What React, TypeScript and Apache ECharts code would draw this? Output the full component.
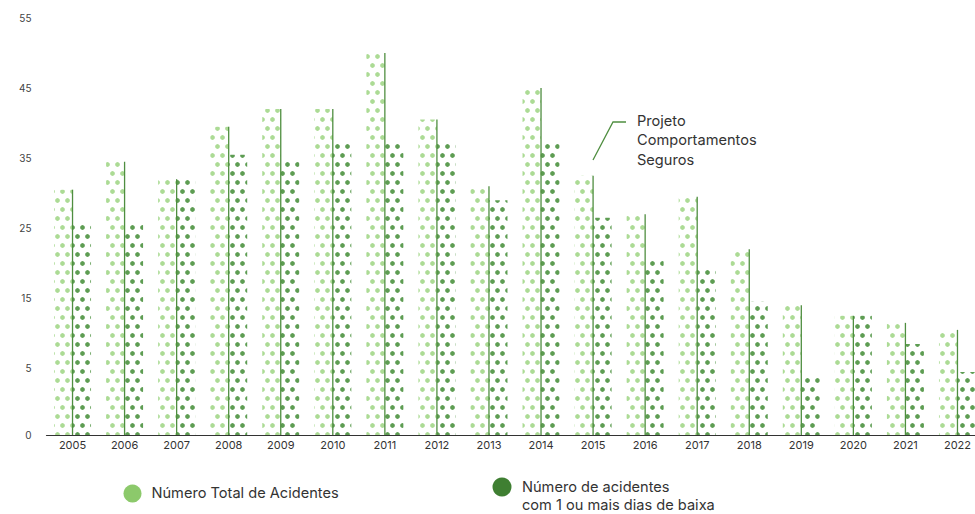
import React, { useEffect, useRef } from "react";
import * as echarts from "echarts";

const years = ["2005","2006","2007","2008","2009","2010","2011","2012","2013","2014","2015","2016","2017","2018","2019","2020","2021","2022"];
const totalAccidents = [30.5, 34.5, 32, 39.5, 42, 42, 50, 40.5, 31, 45, 32.5, 27, 29.5, 22, 14, 12.5, 11.5, 10.5];
const lostDayAccidents = [26, 26, 32, 35.5, 34.5, 37.5, 37.5, 37.5, 29, 37.5, 26.5, 20.5, 19.5, 14.5, 4, 12.5, 8.5, 4.5];
const yTickValues = [-4.5, 5, 15, 25, 35, 45, 55];
const yMin = -4.5;
const yMax = 55;
const seriesNames = ["Número Total de Acidentes", "Número de acidentes\ncom 1 ou mais dias de baixa"];
const annotation = "Projeto\nComportamentos\nSeguros";

const LIGHT_DOT = "#acdb95";
const DARK_DOT = "#5e9d53";
const LINE = "#4f8e40";
const FONT = "Inter, 'Noto Sans', sans-serif";

const dotDecal = (color: string) => ({
  symbol: "circle",
  symbolSize: 0.95,
  color,
  backgroundColor: "rgba(0,0,0,0)",
  dashArrayX: [[4.5, 4.5], [0, 4.5, 4.5, 0]],
  dashArrayY: [4.5, 4],
  rotation: 0,
});

export default function App() {
  const ref = useRef<HTMLDivElement>(null);
  useEffect(() => {
    if (!ref.current) return;
    const chart = echarts.init(ref.current, undefined, { renderer: "svg" });
    chart.setOption({
      animation: false,
      backgroundColor: "#fff",
      grid: { left: 46.5, top: 18, bottom: 79, width: 937, outerBoundsMode: "none", containLabel: false },
      xAxis: {
        type: "category",
        data: years,
        axisLine: { onZero: false, lineStyle: { color: "#333", width: 1.2 } },
        axisTick: { show: false },
        axisLabel: { color: "#333", fontSize: 11, fontFamily: FONT, margin: 4 },
      },
      yAxis: {
        type: "value",
        min: yMin,
        max: yMax,
        startValue: yMin,
        splitLine: { show: false },
        axisLine: { show: false },
        axisTick: { show: false },
        axisLabel: {
          customValues: yTickValues,
          color: "#444",
          fontSize: 10,
          fontFamily: FONT,
          margin: 15,
          formatter: (v: number) => (v < 0 ? "0" : String(v)),
        },
      },
      series: [
        {
          name: seriesNames[0],
          type: "bar",
          data: totalAccidents,
          barWidth: 18.5,
          barGap: "0%",
          itemStyle: { color: "#ffffff", decal: dotDecal(LIGHT_DOT) },
        },
        {
          name: seriesNames[1],
          type: "bar",
          data: lostDayAccidents,
          barWidth: 18.5,
          barGap: "0%",
          itemStyle: { color: "#ffffff", decal: dotDecal(DARK_DOT) },
        },
        {
          type: "custom",
          data: totalAccidents.map((v, i) => [i, v]),
          renderItem: (params: any, api: any) => {
            const top = api.coord([api.value(0), api.value(1)]);
            const base = api.coord([api.value(0), yMin]);
            return {
              type: "line",
              shape: { x1: top[0], y1: top[1], x2: top[0], y2: base[1] },
              style: { stroke: LINE, lineWidth: 1.3 },
            };
          },
          z: 5,
        },
      ],
      graphic: [
        {
          type: "polyline",
          shape: { points: [[593, 160], [613, 122], [626, 122]] },
          style: { stroke: LINE, lineWidth: 1.3, fill: "none" },
        },
        {
          type: "text",
          x: 637,
          y: 111,
          style: { text: annotation, font: `14.6px ${FONT}`, fill: "#333", lineHeight: 19.5 },
        },
        { type: "circle", shape: { cx: 132.5, cy: 493.5, r: 9 }, style: { fill: "#8cc96b" } },
        {
          type: "text",
          x: 151.5,
          y: 493,
          style: { text: seriesNames[0], font: `14.6px ${FONT}`, fill: "#333", verticalAlign: "middle" },
        },
        { type: "circle", shape: { cx: 502, cy: 487, r: 9.5 }, style: { fill: "#3f7f32" } },
        {
          type: "text",
          x: 522,
          y: 478,
          style: { text: seriesNames[1], font: `14.6px ${FONT}`, fill: "#333", lineHeight: 18 },
        },
      ],
    });
    return () => chart.dispose();
  }, []);
  return <div ref={ref} style={{ width: 975, height: 514, position: "fixed", left: 0, top: 0 }} />;
}
